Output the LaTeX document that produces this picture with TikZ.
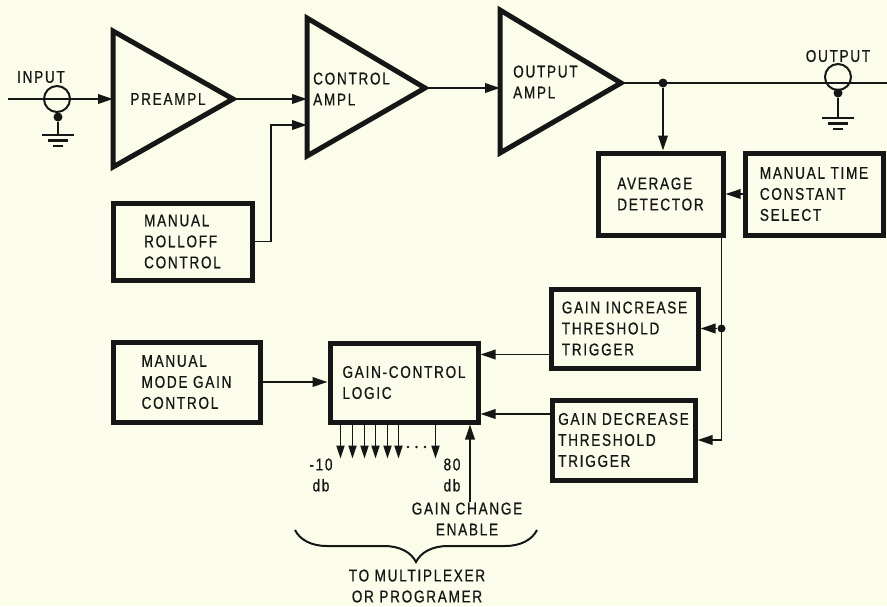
\documentclass[tikz,border=0pt]{standalone}
\usepackage{fontspec}
\setmainfont{Liberation Sans}
\newfontfamily\lbl[FakeStretch=0.8,LetterSpace=10,FakeBold=0.6]{Liberation Sans}
\usetikzlibrary{arrows.meta,calc,decorations.pathreplacing}
\definecolor{paper}{RGB}{252,252,234}
\definecolor{ink}{RGB}{22,22,22}
\begin{document}
\begin{tikzpicture}[x=1pt,y=-1pt,
  every node/.style={font=\lbl\fontsize{17}{21}\selectfont, text=ink, inner sep=0pt},
  box/.style={draw=ink, line width=5pt, align=left},
  amp/.style={draw=ink, line width=5pt, line join=miter},
  wire/.style={draw=ink, line width=1.9pt},
  arr/.style={wire, -{Triangle[length=15pt,width=9.5pt]}},
  jack/.style={circle, draw=ink, line width=2pt, minimum size=26pt},
  junc/.style={circle, fill=ink, minimum size=9pt},
  gnd/.style={draw=ink, line width=2.2pt}
]
\fill[paper] (0,0) rectangle (887,606);
\useasboundingbox (0,0) rectangle (887,606);

% amplifiers
\coordinate (pA) at (233,99);
\coordinate (pIn) at (113,99);
\draw[amp] (113,31) -- (113,167) -- (pA) -- cycle;
\node (preL) at (168,99) {PREAMPL};

\coordinate (cA) at (425,88);
\coordinate (cIn1) at (307,99);
\coordinate (cIn2) at (307,125);
\draw[amp] (307,18) -- (307,156) -- (cA) -- cycle;
\node[anchor=west, align=left] (ctlL) at (313,89) {CONTROL\\AMPL};

\coordinate (oA) at (621,83);
\coordinate (oIn) at (500,88);
\draw[amp] (500,10) -- (500,153) -- (oA) -- cycle;
\node[anchor=west, align=left] (outL) at (513,82) {OUTPUT\\AMPL};

% input jack
\node (inT) at (41,77) {INPUT};
\coordinate (inL) at (8,99);
\draw[arr] (inL) -- (pIn);
\node[jack] (jin) at (57,99) {};
\node[junc] (gin) at (58,117) {};
\coordinate (gin0) at (58,135);
\draw[gnd] (gin) -- (gin0);
\draw[gnd] ($(gin0)+(-16,0)$) -- ($(gin0)+(16,0)$);
\draw[gnd] ($(gin0)+(-10,5.5)$) -- ($(gin0)+(10,5.5)$);
\draw[gnd] ($(gin0)+(-5,11)$) -- ($(gin0)+(5,11)$);

% output jack
\node (outT) at (838,56) {OUTPUT};
\coordinate (oR) at (887,83);
\draw[wire] (oA) -- (oR);
\node[jack] (jout) at (838,77) {};
\node[junc] (gout) at (838,93) {};
\coordinate (gout0) at (838,118);
\draw[gnd] (gout) -- (gout0);
\draw[gnd] ($(gout0)+(-16,0)$) -- ($(gout0)+(16,0)$);
\draw[gnd] ($(gout0)+(-10,5.5)$) -- ($(gout0)+(10,5.5)$);
\draw[gnd] ($(gout0)+(-5,11)$) -- ($(gout0)+(5,11)$);

% boxes
\node[box, minimum width=139pt, minimum height=77pt] (roll) at (182.5,241.5) {MANUAL\\ROLLOFF\\CONTROL};
\node[box, minimum width=147pt, minimum height=80pt] (mmgc) at (186.5,382) {MANUAL\\MODE GAIN\\CONTROL};
\node[box, minimum width=148pt, minimum height=79pt] (gcl) at (404,382.5) {GAIN-CONTROL\\LOGIC};
\node[box, minimum width=125pt, minimum height=82pt] (ad) at (660.5,194) {AVERAGE\\DETECTOR};
\node[box, minimum width=138pt, minimum height=82pt] (mtc) at (814,194) {MANUAL TIME\\CONSTANT\\SELECT};
\node[box, minimum width=147pt, minimum height=79pt] (gi) at (624.5,328.5) {GAIN INCREASE\\THRESHOLD\\TRIGGER};
\node[box, minimum width=143pt, minimum height=80pt] (gd) at (623.5,440) {GAIN DECREASE\\THRESHOLD\\TRIGGER};

% signal chain
\draw[arr] (pA) -- (cIn1);
\draw[arr] (cA) -- (oIn);
\draw[arr] (roll.east) -| ($(cIn2)+(-36,0)$) -- (cIn2);

% detector
\node[junc] (j1) at (663,83) {};
\draw[arr] (j1) -- (j1 |- ad.north);
\draw[arr] (mtc.west) -- (ad.east);
\coordinate (bus) at ([xshift=-4pt]ad.south east);
\draw[arr] (bus) |- (gd.east);
\node[junc, minimum size=8pt] (j2) at (bus |- gi.east) {};
\draw[arr] (j2) -- (gi.east);

% into logic
\coordinate (giout) at ([yshift=-26pt]gi.west);
\draw[arr] (giout) -- (giout -| gcl.east);
\coordinate (gdout) at ([yshift=26pt]gd.west);
\draw[arr] (gdout) -- (gdout -| gcl.east);
\draw[arr] (mmgc.east) -- (mmgc.east -| gcl.west);

% logic outputs
\foreach \dx in {13,25,37,48,60,71,108}
  \draw[wire, -{Triangle[length=13pt,width=8pt]}] ([xshift=\dx pt]gcl.south west) -- ++(0,34);
\foreach \xx in {408,416.5,425}
  \fill[ink] (\xx,447) circle (1.4);
\node[align=center] (m10) at (321,475) {-10\\db};
\node[align=center] (p80) at (452,475) {80\\db};
\coordinate (en) at (470,502);
\draw[arr] (en) -- (en |- gcl.south);
\node[align=center] (enT) at (467,519) {GAIN CHANGE\\ENABLE};

% brace
\coordinate (bl) at (295,530);
\coordinate (br) at (537,530);
\draw[draw=ink, line width=2pt, decorate, decoration={brace, mirror, amplitude=32pt}] (bl) -- (br);
\node[align=center] (mux) at (417,586) {TO MULTIPLEXER\\OR PROGRAMER};
\end{tikzpicture}
\end{document}
